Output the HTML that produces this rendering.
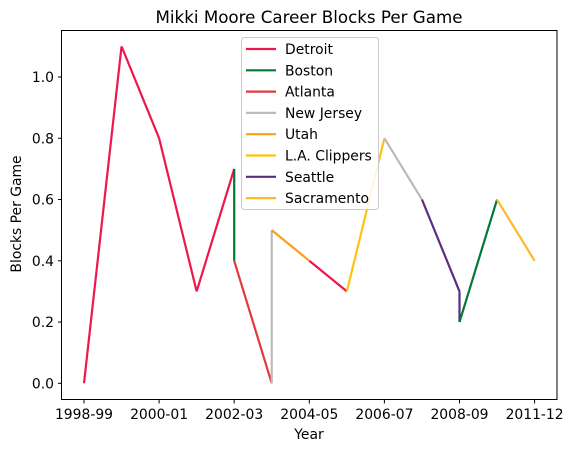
<!DOCTYPE html>
<html><head><meta charset="utf-8"><style>
body{margin:0;background:#fff}
svg{display:block;font-family:"DejaVu Sans","Liberation Sans",sans-serif}
</style></head><body>
<svg id="chart" width="573" height="453" viewBox="0 0 573 453">
<rect x="0" y="0" width="573" height="453" fill="#fff"/>
<text x="309" y="23" text-anchor="middle" font-size="16.7" fill="#000">Mikki Moore Career Blocks Per Game</text>
<g id="grid"></g>
<g id="marks"></g>
<rect x="61.5" y="30.5" width="495.5" height="369" fill="none" stroke="#000" stroke-width="1"/>
<g id="axes"></g>
<text x="309" y="439" text-anchor="middle" font-size="13.9">Year</text>
<text transform="translate(21,214) rotate(-90)" text-anchor="middle" font-size="13.9">Blocks Per Game</text>
<g id="legend"></g>
</svg>
<script>
const seasons = ["1998-99","1999-00","2000-01","2001-02","2002-03","2003-04","2004-05","2005-06","2006-07","2007-08","2008-09","2009-10","2011-12"];
const pointSeason = [0,1,2,3,4,4,5,5,6,7,8,9,10,10,11,12];
const pointValue = [0.0,1.1,0.8,0.3,0.7,0.4,0.0,0.5,0.4,0.3,0.8,0.6,0.3,0.2,0.6,0.4];
const segmentTeam = ["Detroit","Detroit","Detroit","Detroit","Boston","Atlanta","New Jersey","Utah","Detroit","L.A. Clippers","New Jersey","Seattle","Seattle","Boston","Sacramento"];
const teams = ["Detroit","Boston","Atlanta","New Jersey","Utah","L.A. Clippers","Seattle","Sacramento"];
const teamColors = ["#ED174C","#007A33","#E03A3E","#BBBBBB","#F9A01B","#FFC20E","#5A2D81","#FDB927"];
const xTickIdx = [0,2,4,6,8,10,12];
const yTicks = [0.0,0.2,0.4,0.6,0.8,1.0];

const NS="http://www.w3.org/2000/svg";
const x = i => 84 + i*37.55;
const y = v => 383.3 - v*306.3;
function mk(tag, attrs, parent){const e=document.createElementNS(NS,tag);for(const k in attrs)e.setAttribute(k,attrs[k]);parent.appendChild(e);return e;}
const marks=document.getElementById('marks'), axes=document.getElementById('axes'), legend=document.getElementById('legend');

for(let s=0;s<segmentTeam.length;s++){
  const col=teamColors[teams.indexOf(segmentTeam[s])];
  const l=mk('line',{x1:x(pointSeason[s]),y1:y(pointValue[s]),x2:x(pointSeason[s+1]),y2:y(pointValue[s+1]),stroke:col,'stroke-width':2.2},marks);
  
  
}
xTickIdx.forEach(i=>{
  const t=mk('line',{x1:x(i),x2:x(i),y1:400,y2:403.5,stroke:'#000','stroke-width':1},axes);
  
  
  const tx=mk('text',{x:x(i),y:419,'text-anchor':'middle','font-size':13.9},axes);
  tx.textContent=seasons[i];
  
  
});
yTicks.forEach(v=>{
  const t=mk('line',{x1:58,x2:61.5,y1:y(v),y2:y(v),stroke:'#000','stroke-width':1},axes);
  
  
  const tx=mk('text',{x:54,y:y(v)+5,'text-anchor':'end','font-size':13.9},axes);
  tx.textContent=v.toFixed(1);
  
  
});
const box=mk('rect',{x:241.5,y:37.5,width:137,height:172,rx:3,fill:'#fff','fill-opacity':0.85,stroke:'#ccc','stroke-width':1},legend);


teams.forEach((t,i)=>{
  const yy=49+i*21.3;
  const g=mk('g',{},legend);
  
  
  mk('line',{x1:246,x2:276,y1:yy,y2:yy,stroke:teamColors[i],'stroke-width':2.2},g);
  const tx=mk('text',{x:285,y:yy+5,'font-size':13.9},g);
  tx.textContent=t;
});
</script>
</body></html>
